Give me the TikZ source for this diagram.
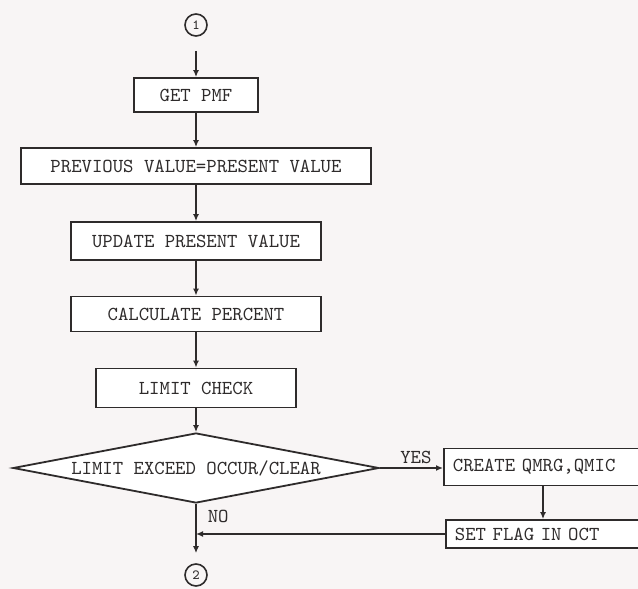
\documentclass[tikz,border=0pt]{standalone}
\usepackage{tikz}
\usetikzlibrary{arrows.meta,positioning,shapes.geometric}
\definecolor{flowInk}{HTML}{2E2B2B}
\definecolor{flowPaper}{HTML}{F8F5F5}

\begin{document}
\begin{tikzpicture}[
  x=0.5pt, y=-0.5pt,
  font=\ttfamily\fontsize{9.9}{11}\selectfont,
  proc/.style={draw=flowInk, line width=.9pt, inner sep=0pt, minimum height=18pt, text=flowInk, fill=white},
  side/.style={proc, anchor=west, text width=104pt, inner xsep=4.5pt, align=left},
  decide/.style={draw=flowInk, line width=.9pt, diamond, aspect=5.3, inner sep=0pt, minimum width=183pt, minimum height=35pt, text=flowInk, fill=white},
  conn/.style={draw=flowInk, line width=.8pt, circle, inner sep=0pt, minimum size=11pt, font=\ttfamily\scriptsize, text=flowInk},
  flow/.style={-{Latex[length=3.5pt,width=3pt]}, line width=.8pt, draw=flowInk},
  lbl/.style={text=flowInk, inner sep=1.5pt}
]
  \clip (0,0) rectangle (638,589);
  \fill[flowPaper] (0,0) rectangle (638,589);

  \node[conn] (start) at (196,25) {1};
  \node[proc, minimum width=62pt, minimum height=17pt] (getpmf) at (196,95) {GET PMF};
  \node[proc, minimum width=175pt] (prev) at (196,166) {PREVIOUS VALUE=PRESENT VALUE};
  \node[proc, minimum width=125pt, minimum height=19pt] (update) at (196,241) {UPDATE PRESENT VALUE};
  \node[proc, minimum width=125pt, minimum height=17.5pt] (calc) at (196,314) {CALCULATE PERCENT};
  \node[proc, minimum width=100pt, minimum height=19.5pt] (limit) at (196,388) {LIMIT CHECK};
  \node[decide] (exceed) at (196,468) {LIMIT EXCEED OCCUR/CLEAR};
  \node[side, minimum height=18.5pt] (create) at (443,467) {CREATE QMRG,QMIC};
  \node[side, minimum height=14pt] (setflag) at (445,534) {SET FLAG IN OCT};
  \node[conn] (finish) at (196,575) {2};

  \coordinate (tap) at (543,0);
  \coordinate (join) at (exceed.south |- setflag.west);

  \draw[flow, shorten <=7pt] (start) -- (getpmf);
  \draw[flow] (getpmf) -- (prev);
  \draw[flow] (prev) -- (update);
  \draw[flow] (update) -- (calc);
  \draw[flow] (calc) -- (limit);
  \draw[flow] (limit) -- (exceed);
  \draw[flow] (exceed.east) -- node[lbl, above, pos=.57]{YES} (create.west |- exceed.east);
  \draw[flow] (create.south -| tap) -- (setflag.north -| tap);
  \draw[flow] (setflag.west) -- (join);
  \draw[flow, shorten >=5pt] (exceed.south) -- node[lbl, right=4pt, pos=.22]{NO} (finish);
\end{tikzpicture}
\end{document}
